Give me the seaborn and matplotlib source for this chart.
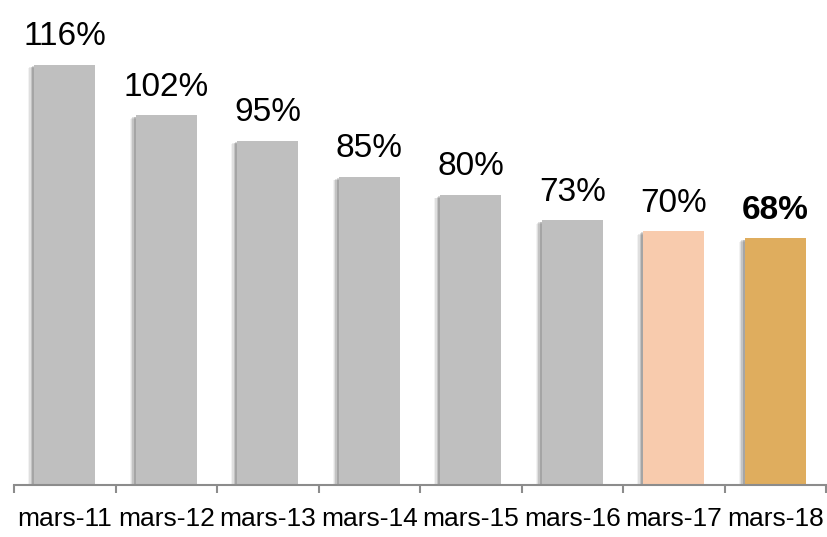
import matplotlib
matplotlib.use("Agg")
import matplotlib.pyplot as plt
import matplotlib.patheffects as pe
from matplotlib import font_manager
import seaborn as sns
import pandas as pd

categories = ["mars-11", "mars-12", "mars-13", "mars-14", "mars-15", "mars-16", "mars-17", "mars-18"]
values = [116, 102, 95, 85, 80, 73, 70, 68]
labels = ["116%", "102%", "95%", "85%", "80%", "73%", "70%", "68%"]
colors = ["#BFBFBF"] * 6 + ["#F8CBAD", "#DFAD5E"]

sns.set_theme(style="white")
names = {f.name for f in font_manager.fontManager.ttflist}
fam = "Liberation Sans Narrow" if "Liberation Sans Narrow" in names else "Liberation Sans"
plt.rcParams["font.family"] = [fam, "DejaVu Sans"]
narrow = fam == "Liberation Sans Narrow"

df = pd.DataFrame({"cat": categories, "val": values})

fig = plt.figure(figsize=(8.27, 5.37), dpi=100)
ax = fig.add_axes([14 / 827, 52.5 / 537, 812 / 827, 484.5 / 537])
sns.barplot(data=df, x="cat", y="val", hue="cat", palette=colors, width=0.6,
            dodge=False, legend=False, ax=ax, saturation=1, linewidth=0)

shadow = [
    pe.SimplePatchShadow(offset=(-4.5, -2.5), shadow_rgbFace="#000000", alpha=0.05),
    pe.SimplePatchShadow(offset=(-3.5, -2), shadow_rgbFace="#000000", alpha=0.08),
    pe.SimplePatchShadow(offset=(-2.5, -1.5), shadow_rgbFace="#000000", alpha=0.12),
    pe.SimplePatchShadow(offset=(-1.5, -1), shadow_rgbFace="#000000", alpha=0.15),
    pe.Normal(),
]
for p in ax.patches:
    p.set_path_effects(shadow)

ax.set_ylim(0, 484.5 / 3.62)
ax.set_xlim(-0.5, len(categories) - 0.5)
for s in ["top", "right", "left"]:
    ax.spines[s].set_visible(False)
ax.spines["bottom"].set_color("#8C8C8C")
ax.spines["bottom"].set_linewidth(1.5)
ax.spines["bottom"].set_zorder(5)
ax.set_yticks([])
ax.set_xlabel("")
ax.set_ylabel("")
ax.set_xticks([i - 0.5 for i in range(len(categories) + 1)], minor=True)
ax.tick_params(axis="x", which="minor", length=6, width=1.5, color="#8C8C8C", direction="out", bottom=True)
ax.tick_params(axis="x", which="major", length=0, pad=16, labelsize=22 if narrow else 19, labelcolor="black")

vsize = 28 if narrow else 24
for i, (v, lab) in enumerate(zip(values, labels)):
    ax.annotate(lab, (i, v), xytext=(0, 14), textcoords="offset points", ha="center", va="baseline",
                fontsize=vsize, color="black", fontweight="bold" if i == len(values) - 1 else "normal")

fig.savefig("out.png", dpi=100)
